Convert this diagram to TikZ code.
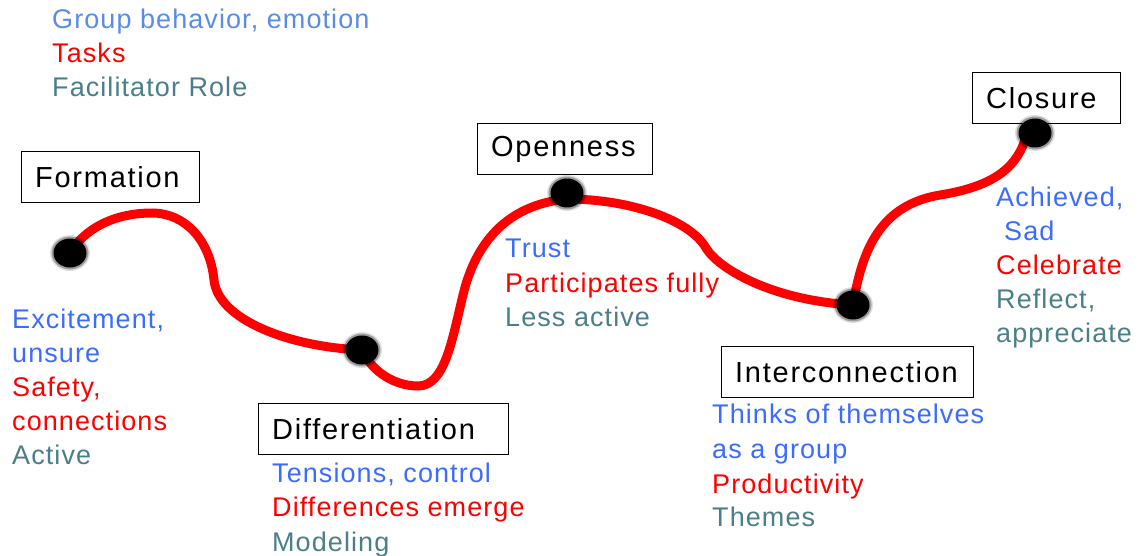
\documentclass[tikz,border=0pt]{standalone}
\usepackage{fontspec}
\setmainfont{Liberation Sans}
\newfontfamily\titlefont[LetterSpace=6]{Liberation Sans}
\newfontfamily\descfont[LetterSpace=4]{Liberation Sans}
\usetikzlibrary{shapes.geometric}
\definecolor{gblue}{RGB}{88,140,232}
\definecolor{dblue}{RGB}{60,108,255}
\definecolor{dred}{RGB}{255,0,0}
\definecolor{dteal}{RGB}{74,126,136}
\tikzset{
  stagebox/.style={draw=black, line width=1.4pt, inner xsep=13.5pt, inner ysep=0pt,
    minimum height=51pt, anchor=north west, align=left,
    font=\titlefont\fontsize{29}{34}\selectfont},
  txt/.style={anchor=base west, inner sep=0pt, font=\descfont\fontsize{27}{34}\selectfont},
  stagedot/.style={ellipse, fill=black, minimum width=33pt, minimum height=29pt, inner sep=0pt,
    preaction={draw=black, line width=7pt, opacity=0.12},
    preaction={draw=black, line width=4pt, opacity=0.3}},
  journey/.style={draw=dred, line width=9pt, line cap=round}
}
\begin{document}
\begin{tikzpicture}[x=1pt,y=-1pt]
\useasboundingbox (0,0) rectangle (1147,556);

% legend
\node[txt, text=gblue] (lg1) at (52,29) {Group behavior, emotion};
\node[txt, text=dred]  (lg2) at (52,63) {Tasks};
\node[txt, text=dteal] (lg3) at (52,97) {Facilitator Role};

% curve anchor points
\coordinate (c1) at (70,253);
\coordinate (c2) at (362,350);
\coordinate (c3) at (567,199);
\coordinate (c4) at (853,305);
\coordinate (c5) at (1025,140);

\draw[journey] (c1) .. controls (85,228) and (115,213) .. (152,213)
  .. controls (185,213) and (210,240) .. (214,280)
  .. controls (218,320) and (290,347) .. (c2);
\draw[journey] (c2) .. controls (372,372) and (395,386) .. (418,386)
  .. controls (445,386) and (452,340) .. (463,295)
  .. controls (475,245) and (505,205) .. (c3);
\draw[journey] (c3) .. controls (630,199) and (690,220) .. (706,248)
  .. controls (718,268) and (770,300) .. (c4);
\draw[journey] (c4) .. controls (862,250) and (880,205) .. (940,195)
  .. controls (990,187) and (1015,170) .. (c5);

% dots
\node[stagedot] (d1) at (70,253) {};
\node[stagedot] (d2) at (362,350) {};
\node[stagedot] (d3) at (567,193) {};
\node[stagedot] (d4) at (853,305) {};
\node[stagedot] (d5) at (1035,133) {};

% stage boxes
\node[stagebox, text width=151pt] (formation) at (21,151) {Formation};
\node[stagebox, text width=223pt] (differentiation) at (258,403) {Differentiation};
\node[stagebox, text width=148pt] (openness) at (477,123) {Openness};
\node[stagebox, text width=225pt] (interconnection) at (721,346) {Interconnection};
\node[stagebox, text width=121pt] (closure) at (972,72) {Closure};

% formation
\node[txt, text=dblue] (f1) at (12,328) {Excitement,};
\node[txt, text=dblue] (f2) at (12,362) {unsure};
\node[txt, text=dred]  (f3) at (12,396) {Safety,};
\node[txt, text=dred]  (f4) at (12,430) {connections};
\node[txt, text=dteal] (f5) at (12,464) {Active};

% differentiation
\node[txt, text=dblue] (g1) at (272,482) {Tensions, control};
\node[txt, text=dred]  (g2) at (272,516) {Differences emerge};
\node[txt, text=dteal] (g3) at (272,551) {Modeling};

% openness
\node[txt, text=dblue] (o1) at (505,257) {Trust};
\node[txt, text=dred]  (o2) at (505,292) {Participates fully};
\node[txt, text=dteal] (o3) at (505,326) {Less active};

% interconnection
\node[txt, text=dblue] (i1) at (712,423) {Thinks of themselves};
\node[txt, text=dblue] (i2) at (712,458) {as a group};
\node[txt, text=dred]  (i3) at (712,493) {Productivity};
\node[txt, text=dteal] (i4) at (712,526) {Themes};

% closure
\node[txt, text=dblue] (k1) at (996,206) {Achieved,};
\node[txt, text=dblue] (k2) at (1004,240) {Sad};
\node[txt, text=dred]  (k3) at (996,274) {Celebrate};
\node[txt, text=dteal] (k4) at (996,308) {Reflect,};
\node[txt, text=dteal] (k5) at (996,342) {appreciate};
\end{tikzpicture}
\end{document}
